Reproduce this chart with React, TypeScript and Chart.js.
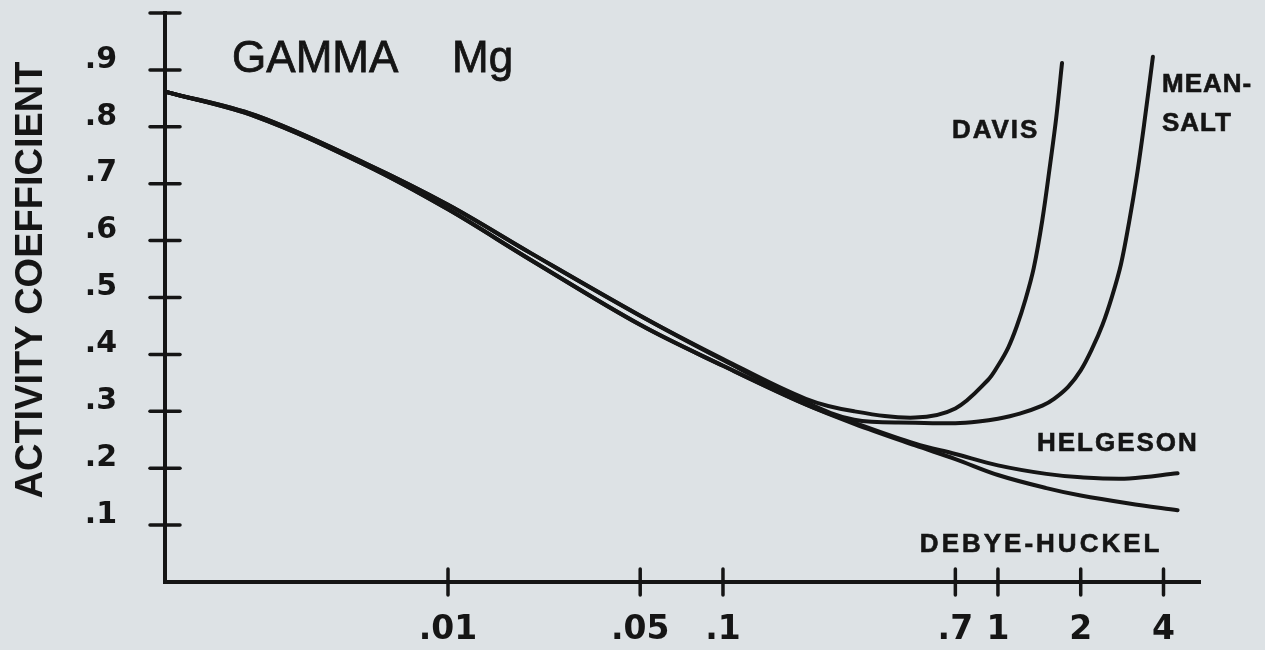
import React, { useEffect, useRef } from 'react';
import { Chart, registerables } from 'chart.js';

Chart.register(...registerables);

// ---- text ----
const titleWord = 'GAMMA';
const titleIon = 'Mg';
const yAxisTitle = 'ACTIVITY COEFFICIENT';
const seriesNames = ['DAVIS', 'MEAN-SALT', 'HELGESON', 'DEBYE-HUCKEL'];

// ---- ticks ----
const yTickValues = [0.1, 0.2, 0.3, 0.4, 0.5, 0.6, 0.7, 0.8, 0.9];
const yTickLabels = ['.1', '.2', '.3', '.4', '.5', '.6', '.7', '.8', '.9'];
const xTickValues = [0.01, 0.05, 0.1, 0.7, 1, 2, 4];
const xTickLabels = ['.01', '.05', '.1', '.7', '1', '2', '4'];
const xMin = 0.000935;
const xMax = 5.43;
const yMin = 0;
const yMax = 1.0;

// ---- series (ionic strength vs activity coefficient) ----
const davisI = [0.00095, 0.002, 0.005, 0.01, 0.02, 0.05, 0.1, 0.2, 0.3, 0.5, 0.7, 0.92, 1.0, 1.09, 1.17, 1.26, 1.35, 1.45, 1.55, 1.63, 1.71];
const davisGamma = [0.861, 0.820, 0.736, 0.663, 0.578, 0.468, 0.392, 0.322, 0.300, 0.289, 0.305, 0.355, 0.380, 0.412, 0.449, 0.497, 0.552, 0.636, 0.736, 0.817, 0.912];

const meanSaltI = [0.00095, 0.002, 0.005, 0.01, 0.02, 0.05, 0.1, 0.2, 0.3, 0.5, 0.7, 0.85, 1.0, 1.2, 1.45, 1.6, 1.8, 2.0, 2.2, 2.4, 2.6, 2.8, 3.0, 3.2, 3.4, 3.66];
const meanSaltGamma = [0.861, 0.820, 0.736, 0.663, 0.578, 0.468, 0.390, 0.316, 0.285, 0.280, 0.279, 0.282, 0.287, 0.296, 0.310, 0.322, 0.343, 0.372, 0.410, 0.452, 0.502, 0.558, 0.633, 0.714, 0.804, 0.923];

const helgesonI = [0.00095, 0.002, 0.005, 0.01, 0.02, 0.05, 0.1, 0.2, 0.3, 0.5, 0.7, 1.0, 1.5, 2.0, 3.0, 4.5];
const helgesonGamma = [0.861, 0.818, 0.733, 0.655, 0.566, 0.452, 0.380, 0.312, 0.280, 0.243, 0.225, 0.205, 0.190, 0.184, 0.182, 0.191];

const debyeHuckelI = [0.00095, 0.002, 0.005, 0.01, 0.02, 0.05, 0.1, 0.2, 0.3, 0.5, 0.7, 1.0, 1.5, 2.0, 3.0, 4.5];
const debyeHuckelGamma = [0.861, 0.818, 0.733, 0.655, 0.566, 0.452, 0.380, 0.312, 0.278, 0.240, 0.216, 0.188, 0.165, 0.152, 0.138, 0.126];

// label anchors in data coordinates (ionic strength, gamma) -> left/baseline
const titleAnchor = { word: [0.00164, 0.896], ion: [0.01034, 0.896] };
const seriesLabelAnchors = [
  [[0.68, 0.780]],
  [[3.95, 0.861], [3.95, 0.793]],
  [[1.386, 0.230]],
  [[0.52, 0.0527]],
];
const seriesLabelLines = [['DAVIS'], ['MEAN-', 'SALT'], ['HELGESON'], ['DEBYE-HUCKEL']];

const paperColor = '#dde2e5';
const inkColor = '#151515';

function toPoints(xs: number[], ys: number[]) {
  return xs.map((x, i) => ({ x, y: ys[i] }));
}

const paperPlugin = {
  id: 'paper',
  beforeDraw(chart: any) {
    const { ctx, width, height } = chart;
    ctx.save();
    ctx.fillStyle = paperColor;
    ctx.fillRect(0, 0, width, height);
    ctx.restore();
  },
};

const axisMarksPlugin = {
  id: 'axisMarks',
  afterDraw(chart: any) {
    const { ctx } = chart;
    const x = chart.scales.x;
    const y = chart.scales.y;
    const ax = chart.chartArea.left;
    const ay = chart.chartArea.bottom;
    ctx.save();
    ctx.strokeStyle = inkColor;
    ctx.lineWidth = 3.5;
    ctx.lineCap = 'round';
    [...yTickValues, yMax].forEach((v) => {
      const py = y.getPixelForValue(v);
      ctx.beginPath();
      ctx.moveTo(ax - 15, py);
      ctx.lineTo(ax + 15, py);
      ctx.stroke();
    });
    xTickValues.forEach((v) => {
      const px = x.getPixelForValue(v);
      ctx.beginPath();
      ctx.moveTo(px, ay - 13);
      ctx.lineTo(px, ay + 13);
      ctx.stroke();
    });
    ctx.restore();
  },
};

const textPlugin = {
  id: 'texts',
  afterDraw(chart: any) {
    const { ctx } = chart;
    const x = chart.scales.x;
    const y = chart.scales.y;
    ctx.save();
    ctx.fillStyle = inkColor;
    ctx.strokeStyle = inkColor;
    ctx.textBaseline = 'alphabetic';
    ctx.textAlign = 'left';

    // title
    ctx.font = '44px "Liberation Sans", Arial, sans-serif';
    (ctx as any).letterSpacing = '0px';
    ctx.lineWidth = 0.8;
    const wx = x.getPixelForValue(titleAnchor.word[0]);
    const wy = y.getPixelForValue(titleAnchor.word[1]);
    const mx = x.getPixelForValue(titleAnchor.ion[0]);
    const my = y.getPixelForValue(titleAnchor.ion[1]);
    ctx.fillText(titleWord, wx, wy);
    ctx.strokeText(titleWord, wx, wy);
    ctx.fillText(titleIon, mx, my);
    ctx.strokeText(titleIon, mx, my);

    // series labels
    ctx.font = 'bold 26px "Liberation Sans", Arial, sans-serif';
    ctx.lineWidth = 0.6;
    seriesLabelLines.forEach((lines, si) => {
      (ctx as any).letterSpacing = si === 3 ? '3px' : si === 1 ? '1px' : '2px';
      lines.forEach((line, li) => {
        const [ix, gy] = seriesLabelAnchors[si][li];
        const px = x.getPixelForValue(ix);
        const py = y.getPixelForValue(gy);
        ctx.fillText(line, px, py);
        ctx.strokeText(line, px, py);
      });
    });

    // y axis title
    (ctx as any).letterSpacing = '0px';
    ctx.font = 'bold 38px "Liberation Sans", Arial, sans-serif';
    ctx.translate(42, 280);
    ctx.rotate(-Math.PI / 2);
    ctx.textAlign = 'center';
    ctx.fillText(yAxisTitle, 0, 0);
    ctx.restore();
  },
};

export default function App() {
  const canvasRef = useRef<HTMLCanvasElement | null>(null);

  useEffect(() => {
    document.body.style.margin = '0';
    const canvas = canvasRef.current;
    if (!canvas) return;
    const lineStyle = {
      borderColor: inkColor,
      borderWidth: 4,
      pointRadius: 0,
      fill: false,
      tension: 0.35,
      borderCapStyle: 'round' as const,
      borderJoinStyle: 'round' as const,
    };
    const chart = new Chart(canvas, {
      type: 'line',
      data: {
        datasets: [
          { label: seriesNames[0], data: toPoints(davisI, davisGamma), ...lineStyle },
          { label: seriesNames[1], data: toPoints(meanSaltI, meanSaltGamma), ...lineStyle },
          { label: seriesNames[2], data: toPoints(helgesonI, helgesonGamma), ...lineStyle },
          { label: seriesNames[3], data: toPoints(debyeHuckelI, debyeHuckelGamma), ...lineStyle },
        ],
      },
      options: {
        responsive: false,
        animation: false,
        devicePixelRatio: 1,
        parsing: false as any,
        layout: { padding: { top: 13, right: 65, left: 0, bottom: 0 } },
        plugins: {
          legend: { display: false },
          tooltip: { enabled: false },
        },
        scales: {
          x: {
            type: 'logarithmic',
            min: xMin,
            max: xMax,
            afterBuildTicks: (scale: any) => {
              scale.ticks = xTickValues.map((v) => ({ value: v }));
            },
            afterFit: (scale: any) => {
              scale.height = 68;
              scale.paddingLeft = 0;
              scale.paddingRight = 0;
              scale.paddingTop = 0;
              scale.paddingBottom = 0;
            },
            grid: { display: false, drawTicks: false },
            border: { display: true, color: inkColor, width: 4 },
            ticks: {
              autoSkip: false,
              maxRotation: 0,
              minRotation: 0,
              padding: 29,
              color: inkColor,
              font: { family: '"DejaVu Sans", sans-serif', size: 33, weight: 'bold' },
              callback: (_v: any, i: number) => xTickLabels[i],
            },
          },
          y: {
            type: 'linear',
            min: yMin,
            max: yMax,
            afterBuildTicks: (scale: any) => {
              scale.ticks = yTickValues.map((v) => ({ value: v }));
            },
            afterFit: (scale: any) => {
              scale.width = 165;
              scale.paddingTop = 0;
              scale.paddingBottom = 0;
              scale.paddingLeft = 0;
              scale.paddingRight = 0;
            },
            grid: { display: false, drawTicks: false },
            border: { display: true, color: inkColor, width: 4 },
            ticks: {
              autoSkip: false,
              padding: 48,
              labelOffset: -10,
              color: inkColor,
              font: { family: '"DejaVu Sans", sans-serif', size: 30, weight: 'bold' },
              callback: (_v: any, i: number) => yTickLabels[i],
            },
          },
        },
      },
      plugins: [paperPlugin, axisMarksPlugin, textPlugin],
    });
    return () => chart.destroy();
  }, []);

  return (
    <div style={{ width: 1265, height: 650, background: paperColor }}>
      <canvas ref={canvasRef} width={1265} height={650} style={{ display: 'block' }} />
    </div>
  );
}
